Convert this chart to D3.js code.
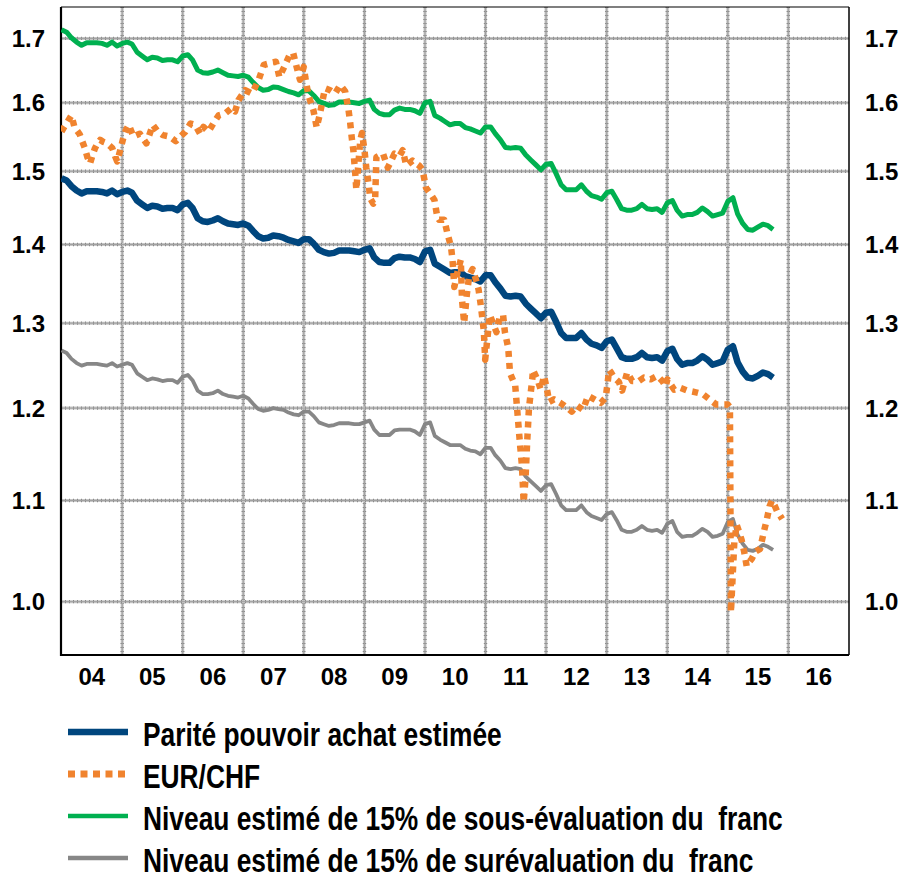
<!DOCTYPE html>
<html><head><meta charset="utf-8">
<script src="https://cdn.jsdelivr.net/npm/d3@7"></script>
<style>
body{margin:0;background:#fff}
svg{display:block}
text{font-family:'Liberation Sans Narrow','Arial Narrow','Liberation Sans',Arial,sans-serif;font-weight:bold;fill:#000}
</style>
</head><body>
<svg id="chart" width="905" height="877"></svg>
<script>
// ---- data (monthly estimates, Jan 2004 .. Oct 2015) ----
const monthlyStart = "2004-01-01";
const ppp = [
1.490,1.487,1.479,1.473,1.469,1.472,1.472,1.472,1.471,1.469,1.473,1.468,
1.471,1.473,1.470,1.459,1.454,1.449,1.452,1.451,1.448,1.449,1.449,1.446,
1.454,1.456,1.449,1.435,1.431,1.430,1.432,1.435,1.431,1.428,1.427,1.426,
1.428,1.425,1.418,1.411,1.408,1.409,1.412,1.411,1.409,1.406,1.404,1.402,
1.407,1.407,1.401,1.393,1.390,1.388,1.389,1.392,1.392,1.392,1.391,1.390,
1.393,1.395,1.383,1.377,1.376,1.376,1.382,1.384,1.383,1.383,1.381,1.377,
1.391,1.393,1.375,1.371,1.367,1.363,1.364,1.364,1.359,1.357,1.355,1.352,
1.360,1.360,1.351,1.343,1.334,1.333,1.334,1.333,1.324,1.318,1.312,1.306,
1.313,1.314,1.302,1.288,1.282,1.282,1.282,1.288,1.280,1.275,1.273,1.270,
1.278,1.280,1.270,1.259,1.257,1.257,1.259,1.264,1.259,1.258,1.259,1.255,
1.266,1.269,1.257,1.250,1.252,1.252,1.255,1.260,1.256,1.250,1.252,1.254,
1.268,1.272,1.253,1.242,1.235,1.234,1.237,1.241,1.239,1.235];
const underval = [
1.714,1.710,1.701,1.694,1.689,1.693,1.693,1.693,1.692,1.689,1.694,1.688,
1.692,1.694,1.691,1.678,1.672,1.666,1.670,1.669,1.665,1.666,1.666,1.663,
1.672,1.674,1.666,1.650,1.646,1.645,1.647,1.650,1.646,1.642,1.641,1.640,
1.642,1.639,1.631,1.623,1.619,1.620,1.624,1.623,1.620,1.617,1.615,1.612,
1.618,1.618,1.611,1.602,1.599,1.596,1.597,1.601,1.601,1.601,1.600,1.599,
1.602,1.604,1.590,1.584,1.582,1.582,1.589,1.592,1.590,1.590,1.588,1.584,
1.600,1.602,1.581,1.577,1.572,1.567,1.569,1.569,1.563,1.561,1.558,1.555,
1.564,1.564,1.554,1.545,1.534,1.533,1.534,1.533,1.523,1.516,1.509,1.502,
1.510,1.511,1.497,1.481,1.474,1.474,1.474,1.481,1.472,1.466,1.464,1.461,
1.470,1.472,1.461,1.448,1.446,1.446,1.448,1.454,1.448,1.447,1.448,1.443,
1.456,1.459,1.446,1.438,1.440,1.440,1.443,1.449,1.444,1.438,1.440,1.442,
1.458,1.463,1.441,1.428,1.420,1.419,1.423,1.427,1.425,1.420];
const overval = [
1.267,1.264,1.257,1.252,1.249,1.251,1.251,1.251,1.250,1.249,1.252,1.248,
1.250,1.252,1.250,1.240,1.236,1.232,1.234,1.233,1.231,1.232,1.232,1.229,
1.236,1.238,1.232,1.220,1.216,1.216,1.217,1.220,1.216,1.214,1.213,1.212,
1.214,1.211,1.205,1.199,1.197,1.198,1.200,1.199,1.198,1.195,1.193,1.192,
1.196,1.196,1.191,1.184,1.182,1.180,1.181,1.183,1.183,1.183,1.182,1.182,
1.184,1.186,1.176,1.170,1.170,1.170,1.175,1.176,1.176,1.176,1.174,1.170,
1.182,1.184,1.169,1.165,1.162,1.159,1.159,1.159,1.155,1.153,1.152,1.149,
1.156,1.156,1.148,1.142,1.134,1.133,1.134,1.133,1.125,1.120,1.115,1.110,
1.116,1.117,1.107,1.095,1.090,1.090,1.090,1.095,1.088,1.084,1.082,1.080,
1.086,1.088,1.080,1.070,1.068,1.068,1.070,1.074,1.070,1.069,1.070,1.067,
1.076,1.079,1.068,1.063,1.064,1.064,1.067,1.071,1.068,1.063,1.064,1.066,
1.078,1.081,1.065,1.056,1.050,1.049,1.051,1.055,1.053,1.050];

const eurchfDates = [
"2004-01-01","2004-01-15","2004-02-01","2004-02-15","2004-03-01","2004-03-20","2004-04-05","2004-04-20","2004-05-05","2004-05-21",
"2004-06-05","2004-06-21","2004-07-05","2004-07-21","2004-08-05","2004-08-21","2004-09-10","2004-10-02","2004-10-20","2004-11-02",
"2004-11-18","2004-12-02","2004-12-20","2005-01-10","2005-01-25","2005-02-10","2005-03-09","2005-04-17","2005-05-27","2005-07-05",
"2005-08-04","2005-09-03","2005-10-12","2005-11-20","2005-12-19","2006-01-18","2006-02-17","2006-03-17","2006-04-16","2006-05-06",
"2006-06-05","2006-07-05","2006-08-05","2006-09-14","2006-10-23","2006-11-13","2006-12-03","2007-01-13","2007-02-23","2007-04-04",
"2007-05-05","2007-06-16","2007-07-17","2007-08-07","2007-09-07","2007-10-08","2007-10-29","2007-11-19","2007-12-09","2008-01-01",
"2008-01-10","2008-01-29","2008-02-28","2008-03-19","2008-04-08","2008-05-08","2008-06-08","2008-07-08","2008-08-08","2008-09-07",
"2008-09-27","2008-10-07","2008-10-17","2008-10-27","2008-11-07","2008-11-13","2008-11-27","2008-12-07","2008-12-17","2009-01-01",
"2009-01-12","2009-01-26","2009-02-05","2009-02-23","2009-03-06","2009-03-14","2009-04-23","2009-05-22","2009-07-01","2009-08-01",
"2009-08-20","2009-09-10","2009-10-18","2009-11-27","2009-12-17","2010-01-07","2010-02-07","2010-02-27","2010-03-16","2010-03-27",
"2010-04-27","2010-05-16","2010-06-07","2010-06-16","2010-06-27","2010-07-16","2010-08-05","2010-08-12","2010-08-25","2010-09-10",
"2010-09-25","2010-10-15","2010-11-05","2010-11-20","2010-12-05","2010-12-22","2010-12-30","2011-01-27","2011-03-08","2011-03-28",
"2011-04-17","2011-04-28","2011-05-18","2011-05-29","2011-06-29","2011-07-09","2011-07-19","2011-07-29","2011-08-09","2011-08-19",
"2011-08-30","2011-09-10","2011-09-20","2011-10-10","2011-10-14","2011-11-10","2011-11-30","2011-12-20","2012-01-10","2012-01-20",
"2012-02-18","2012-03-27","2012-05-05","2012-06-04","2012-07-03","2012-08-11","2012-09-10","2012-10-19","2012-11-27","2012-12-26",
"2013-01-16","2013-01-27","2013-02-15","2013-03-15","2013-04-04","2013-05-04","2013-06-04","2013-07-14","2013-08-13","2013-09-23",
"2013-11-02","2013-12-02","2013-12-23","2014-01-02","2014-02-12","2014-03-23","2014-05-03","2014-06-23","2014-08-03","2014-09-13",
"2014-10-24","2014-12-04","2015-01-01","2015-01-14","2015-01-20","2015-02-10","2015-02-24","2015-03-10","2015-03-25","2015-04-10",
"2015-04-25","2015-05-10","2015-05-25","2015-06-15","2015-07-15","2015-08-05","2015-08-25","2015-09-10","2015-09-25","2015-10-10",
"2015-10-25","2015-11-10","2015-11-25"];
const eurchfValues = [
1.557,1.563,1.569,1.575,1.581,1.563,1.558,1.553,1.543,1.533,
1.520,1.511,1.522,1.533,1.540,1.545,1.542,1.540,1.536,1.533,
1.522,1.514,1.530,1.550,1.560,1.567,1.550,1.554,1.540,1.567,
1.557,1.552,1.550,1.543,1.550,1.557,1.569,1.567,1.554,1.564,
1.557,1.569,1.581,1.584,1.592,1.587,1.604,1.619,1.614,1.635,
1.658,1.661,1.663,1.639,1.656,1.674,1.677,1.655,1.635,1.655,
1.639,1.611,1.589,1.563,1.584,1.622,1.619,1.614,1.627,1.617,
1.589,1.570,1.547,1.528,1.495,1.474,1.516,1.545,1.555,1.530,
1.505,1.482,1.462,1.455,1.458,1.520,1.525,1.505,1.525,1.522,
1.530,1.508,1.515,1.508,1.502,1.477,1.467,1.460,1.437,1.433,
1.433,1.415,1.397,1.380,1.345,1.364,1.380,1.330,1.300,1.335,
1.360,1.368,1.354,1.342,1.320,1.290,1.256,1.310,1.289,1.308,
1.310,1.289,1.270,1.240,1.226,1.203,1.180,1.158,1.136,1.098,
1.122,1.165,1.200,1.233,1.244,1.233,1.221,1.237,1.218,1.207,
1.210,1.206,1.201,1.196,1.203,1.198,1.214,1.210,1.206,1.212,
1.244,1.241,1.235,1.230,1.220,1.241,1.231,1.231,1.235,1.233,
1.237,1.231,1.225,1.233,1.221,1.223,1.220,1.218,1.216,1.210,
1.204,1.204,1.204,1.201,0.990,1.060,1.075,1.068,1.060,1.048,
1.034,1.038,1.041,1.048,1.051,1.067,1.081,1.094,1.100,1.095,
1.089,1.085,1.081];

const yTicks = [1.0,1.1,1.2,1.3,1.4,1.5,1.6,1.7];
const yearLabels = ["04","05","06","07","08","09","10","11","12","13","14","15","16"];
const legendLabels = [
  "Parité pouvoir achat estimée",
  "EUR/CHF",
  "Niveau estimé de 15% de sous-évaluation du  franc",
  "Niveau estimé de 15% de surévaluation du  franc"];

// ---- layout ----
const L = 61, R = 849, T = 7, B = 655;
const svg = d3.select("#chart");
const parse = d3.timeParse("%Y-%m-%d");
const x = d3.scaleTime().domain([new Date(2004,0,1), new Date(2017,0,1)]).range([L+0.5, R]);
const y = d3.scaleLog().domain([0.951, 1.751]).range([B, T]);

const monthDates = ppp.map((_, i) => d3.timeMonth.offset(parse(monthlyStart), i));

// grid
const grid = svg.append("g");
const years = d3.range(2005, 2017).map(yr => new Date(yr,0,1));
function gridLine(x1,y1,x2,y2){
  grid.append("line").attr("x1",x1).attr("y1",y1).attr("x2",x2).attr("y2",y2)
    .attr("stroke","#c6c6c6").attr("stroke-width",3);
  grid.append("line").attr("x1",x1).attr("y1",y1).attr("x2",x2).attr("y2",y2)
    .attr("stroke","#8a8a8a").attr("stroke-width",3.4).attr("stroke-dasharray","1,3");
  grid.append("line").attr("x1",x1).attr("y1",y1).attr("x2",x2).attr("y2",y2)
    .attr("stroke","#a0a0a0").attr("stroke-width",1);
}
years.forEach(d => gridLine(x(d), T, x(d), B));
yTicks.forEach(v => gridLine(L, y(v), R, y(v)));

// frame
const frame = svg.append("g").attr("fill","none").attr("stroke","#000");
frame.append("line").attr("x1",L).attr("x2",L).attr("y1",T).attr("y2",B+1).attr("stroke-width",2.2);
frame.append("line").attr("x1",L).attr("x2",R).attr("y1",B).attr("y2",B).attr("stroke-width",2);
frame.append("line").attr("x1",L).attr("x2",R).attr("y1",T).attr("y2",T).attr("stroke-width",1.2);
frame.append("line").attr("x1",R).attr("x2",R).attr("y1",T).attr("y2",B).attr("stroke-width",1.5);

// y labels
const yl = svg.append("g").attr("font-size", 24);
yTicks.forEach(v => {
  yl.append("text").attr("x",45).attr("y",y(v)).attr("dy","0.36em").attr("text-anchor","end").text(v.toFixed(1));
  yl.append("text").attr("x",865).attr("y",y(v)).attr("dy","0.36em").attr("text-anchor","start").text(v.toFixed(1));
});
// x labels
const xl = svg.append("g").attr("font-size", 24);
yearLabels.forEach((lab, i) => {
  const mid = new Date(2004 + i, 6, 2);
  xl.append("text").attr("x", x(mid)).attr("y", 685).attr("text-anchor","middle").text(lab);
});

// series
const line = d3.line().x(d => x(d[0])).y(d => y(d[1]));
const series = [
  {data: monthDates.map((d,i)=>[d, overval[i]]), color:"#878787", w:3.8, dash:null},
  {data: monthDates.map((d,i)=>[d, underval[i]]), color:"#00b050", w:5, dash:null},
  {data: monthDates.map((d,i)=>[d, ppp[i]]), color:"#00467e", w:6.5, dash:null},
  {data: eurchfDates.map((d,i)=>[parse(d), eurchfValues[i]]), color:"#f0832e", w:6.5, dash:"6,6"}
];
const clip = svg.append("clipPath").attr("id","plotclip").append("rect")
  .attr("x",L).attr("y",T).attr("width",R-L).attr("height",B-T);
const lines = svg.append("g").attr("clip-path","url(#plotclip)");
series.forEach(s => {
  lines.append("path").attr("d", line(s.data)).attr("fill","none")
    .attr("stroke", s.color).attr("stroke-width", s.w)
    .attr("stroke-linejoin","round")
    .attr("stroke-dasharray", s.dash);
});

// legend
const legendStyle = [
  {color:"#00467e", w:6.5, dash:null},
  {color:"#f0832e", w:7, dash:"7,5.5"},
  {color:"#00b050", w:4.6, dash:null},
  {color:"#878787", w:4.4, dash:null}
];
const lg = svg.append("g");
const texts = [];
legendLabels.forEach((lab, i) => {
  const ly = 732 + i*42;
  lg.append("line").attr("x1",68).attr("x2",128).attr("y1",ly).attr("y2",ly)
    .attr("stroke", legendStyle[i].color).attr("stroke-width", legendStyle[i].w)
    .attr("stroke-dasharray", legendStyle[i].dash);
  const t = lg.append("text").attr("x",0).attr("y",0).attr("font-size",34)
    .style("white-space","pre")
    .attr("transform", `translate(143,${ly+13.5})`)
    .text(lab);
  texts.push(t);
});
// uniform horizontal condensation so the longest line spans like the reference
const natural = texts[2].node().getComputedTextLength();
const k = 640 / natural;
texts.forEach((t, i) => {
  const ly = 732 + i*42;
  t.attr("transform", `translate(143,${ly+13.5}) scale(${k},1)`);
});
</script>
</body></html>
